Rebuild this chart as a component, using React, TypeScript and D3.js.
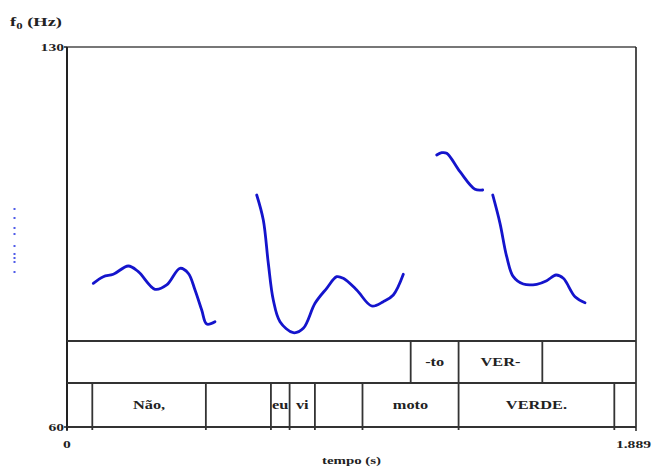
import React from "react";
import * as d3 from "d3";

// ---- data ----
const timeMax = 1.889;
const f0Min = 60;
const f0Max = 130;

const seg1Time = [0.0873, 0.1205, 0.1537, 0.2035, 0.2367, 0.2921, 0.331, 0.3751, 0.4027, 0.425, 0.4472, 0.4638, 0.4913];
const seg1F0 = [86.47, 87.69, 88.13, 89.66, 88.61, 85.37, 86.16, 89.23, 88.31, 85.24, 81.55, 78.97, 79.4];

const seg2Time = [0.6298, 0.6517, 0.6683, 0.6849, 0.7071, 0.7513, 0.7845, 0.8234, 0.8622, 0.8954, 0.9173, 0.9618, 1.0116, 1.0501, 1.0833, 1.1165];
const seg2F0 = [102.74, 98.13, 90.16, 83.39, 79.4, 77.37, 78.18, 82.79, 85.55, 87.69, 87.39, 85.24, 82.29, 83.08, 84.32, 88.13];

const seg3Time = [1.2274, 1.244, 1.2606, 1.3047, 1.3545, 1.3801];
const seg3F0 = [110.11, 110.53, 110.42, 107.03, 103.79, 103.66];

const seg4Time = [1.4133, 1.4375, 1.4598, 1.4817, 1.5149, 1.5594, 1.5925, 1.6234, 1.6477, 1.6865, 1.7197];
const seg4F0 = [102.74, 97.52, 91.37, 87.69, 86.34, 86.29, 86.95, 88.0, 87.39, 84.0, 82.9];

const tier1Bounds = [1.141, 1.3, 1.578];
const tier1Labels = ["", "-to", "VER-", ""];

const tier2Bounds = [0.084, 0.461, 0.677, 0.739, 0.823, 0.981, 1.3, 1.817];
const tier2Labels = ["", "Não,", "", "eu", "vi", "", "moto", "VERDE.", ""];

const strayMarksF0 = [100.16, 98.5, 96.66, 95.55, 93.34, 91.87, 91.13, 90.4, 88.55];

const yTickLabels = ["130", "60"];
const xTickLabels = ["0", "1.889"];
const xTitle = "tempo (s)";

// ---- layout ----
const W = 652;
const H = 468;
const L = 67;
const R = 636;
const T = 47;
const B = 427;
const tier1Top = 341;
const tier2Top = 383;

const FONT = "'Liberation Serif', 'Times New Roman', 'DejaVu Serif', serif";
const INK = "#222";

function SText({ x, y, anchor = "middle", size = 10.5, sx = 1.42, children }: any) {
  return (
    <text
      transform={`translate(${x},${y}) scale(${sx},1)`}
      textAnchor={anchor}
      fontSize={size}
      fontFamily={FONT}
      fontWeight="bold"
      fill={INK}
    >
      {children}
    </text>
  );
}

export default function App() {
  const x = d3.scaleLinear().domain([0, timeMax]).range([L, R]);
  const y = d3.scaleLinear().domain([f0Min, f0Max]).range([B, T]);

  const line = d3
    .line<[number, number]>()
    .x((d) => x(d[0]))
    .y((d) => y(d[1]))
    .curve(d3.curveCatmullRom.alpha(0.5));

  const segs = [
    [seg1Time, seg1F0],
    [seg2Time, seg2F0],
    [seg3Time, seg3F0],
    [seg4Time, seg4F0],
  ].map(([ts, fs]) => ts.map((t, i) => [t, fs[i]] as [number, number]));

  const t1Edges = [0, ...tier1Bounds, timeMax];
  const t2Edges = [0, ...tier2Bounds, timeMax];

  return (
    <svg
      width={W}
      height={H}
      style={{ position: "absolute", left: 0, top: 0, background: "#fff" }}
    >
      <rect x={0} y={0} width={W} height={H} fill="#fff" />

      {/* f0 label */}
      <text
        transform={`translate(10,26) scale(1.42,1)`}
        fontSize={13}
        fontFamily={FONT}
        fontWeight="bold"
        fill={INK}
      >
        f
        <tspan dy={3} fontSize={9}>
          0
        </tspan>
        <tspan dy={-3}> (Hz)</tspan>
      </text>

      {/* stray marks on the left */}
      {strayMarksF0.map((v, i) => (
        <rect key={i} x={13.5} y={y(v) - 1} width={2} height={2} fill="#4f5be8" />
      ))}

      {/* f0 contours */}
      {segs.map((s, i) => (
        <path
          key={i}
          d={line(s) || ""}
          fill="none"
          stroke="#1414cc"
          strokeWidth={2.8}
          strokeLinecap="round"
          strokeLinejoin="round"
        />
      ))}

      {/* frame */}
      <line x1={L} x2={R} y1={T} y2={T} stroke="#777" strokeWidth={2.2} />
      <line x1={R} x2={R} y1={T} y2={B} stroke={INK} strokeWidth={1.6} />
      <line x1={L} x2={L} y1={T} y2={B + 3} stroke={INK} strokeWidth={2} />
      <line x1={L} x2={R} y1={tier1Top} y2={tier1Top} stroke="#333" strokeWidth={1.8} />
      <line x1={L} x2={R} y1={tier2Top} y2={tier2Top} stroke="#333" strokeWidth={1.8} />
      <line x1={L} x2={R} y1={B} y2={B} stroke="#333" strokeWidth={2} />

      {/* y ticks */}
      <line x1={L - 3} x2={L} y1={y(f0Max)} y2={y(f0Max)} stroke={INK} strokeWidth={1.5} />
      <line x1={L - 3} x2={L} y1={y(f0Min)} y2={y(f0Min)} stroke={INK} strokeWidth={1.5} />
      <SText x={L - 3} y={y(f0Max) + 4} anchor="end" size={11}>
        {yTickLabels[0]}
      </SText>
      <SText x={L - 3} y={y(f0Min) + 4} anchor="end" size={11}>
        {yTickLabels[1]}
      </SText>

      {/* tier 1 */}
      {tier1Bounds.map((b, i) => (
        <line key={i} x1={x(b)} x2={x(b)} y1={tier1Top} y2={tier2Top} stroke="#333" strokeWidth={1.8} />
      ))}
      {tier1Labels.map((lab, i) =>
        lab ? (
          <SText key={i} x={(x(t1Edges[i]) + x(t1Edges[i + 1])) / 2} y={366} size={11.5}>
            {lab}
          </SText>
        ) : null
      )}

      {/* tier 2 */}
      {tier2Bounds.map((b, i) => (
        <line key={i} x1={x(b)} x2={x(b)} y1={tier2Top} y2={B + 3} stroke="#333" strokeWidth={1.8} />
      ))}
      {tier2Labels.map((lab, i) =>
        lab ? (
          <SText key={i} x={(x(t2Edges[i]) + x(t2Edges[i + 1])) / 2} y={409} size={11.5}>
            {lab}
          </SText>
        ) : null
      )}

      {/* x ticks */}
      <line x1={x(0)} x2={x(0)} y1={B} y2={B + 4} stroke={INK} strokeWidth={1.5} />
      <line x1={x(timeMax)} x2={x(timeMax)} y1={B} y2={B + 4} stroke={INK} strokeWidth={1.5} />
      <SText x={x(0)} y={448} size={11}>
        {xTickLabels[0]}
      </SText>
      <SText x={651} y={448} size={11} anchor="end">
        {xTickLabels[1]}
      </SText>
      <SText x={(L + R) / 2} y={464} size={10.5}>
        {xTitle}
      </SText>
    </svg>
  );
}
